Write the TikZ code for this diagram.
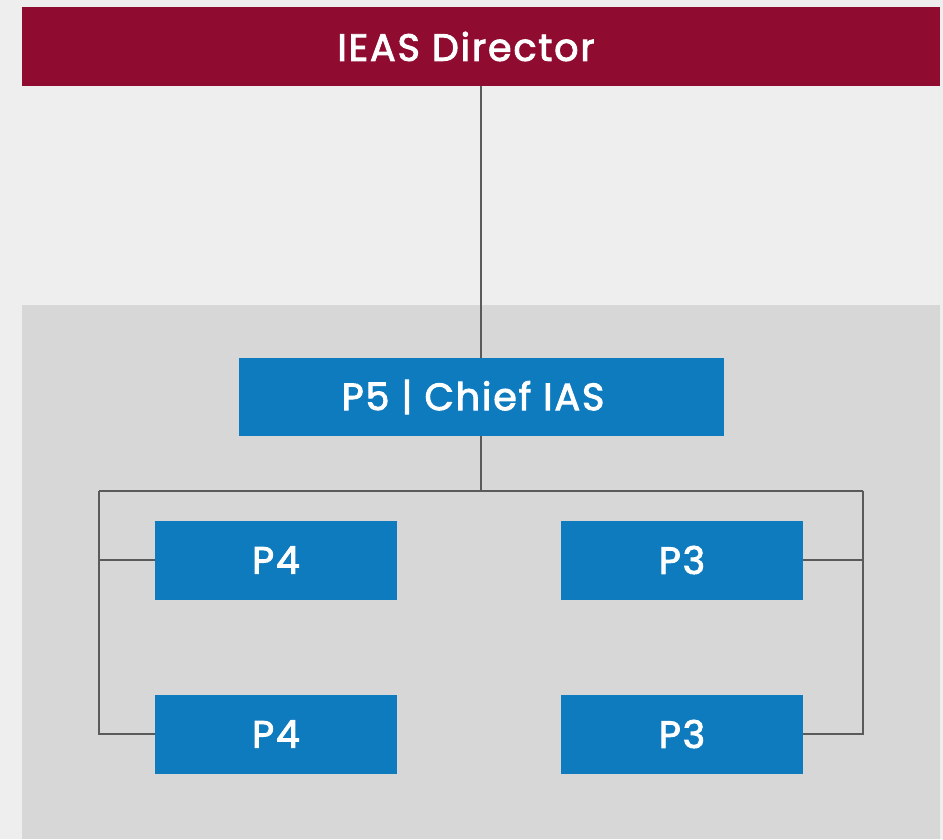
\documentclass[tikz,border=0pt]{standalone}
\usepackage{fontspec}
\setmainfont{Poppins}
\newfontfamily\labelfont{Poppins}[FakeBold=2.5,LetterSpace=5]
\definecolor{bgc}{HTML}{EEEEEE}
\definecolor{panelc}{HTML}{D7D7D7}
\definecolor{maroon}{HTML}{8F0B30}
\definecolor{bluec}{HTML}{0E7BBE}
\definecolor{linec}{HTML}{5A5A5A}
\begin{document}
\begin{tikzpicture}[x=1pt,y=-1pt,
  box/.style={fill=bluec,text=white,inner sep=0pt,font=\labelfont\fontsize{38}{44}\selectfont},
  topbox/.style={fill=maroon,text=white,inner sep=0pt,font=\labelfont\fontsize{38}{44}\selectfont},
  conn/.style={draw=linec,line width=1.2pt}]
\fill[bgc] (0,0) rectangle (943,839);
\useasboundingbox (0,0) rectangle (943,839);
\fill[panelc] (22,305) rectangle (940,839);
\node[topbox,minimum width=918pt,minimum height=79pt] (dir) at (481,46.5) {IEAS Director\hspace*{30pt}};
\node[box,minimum width=485pt,minimum height=78pt] (p5) at (481,397) {P5 | Chief IAS\hspace*{16pt}};
\node[box,minimum width=242pt,minimum height=79pt] (p4a) at (276,560) {P4};
\node[box,minimum width=242pt,minimum height=79pt] (p4b) at (276,734) {P4};
\node[box,minimum width=242pt,minimum height=79pt] (p3a) at (682,560) {P3};
\node[box,minimum width=242pt,minimum height=79pt] (p3b) at (682,734) {P3};
\coordinate (hub) at (481,491);
\coordinate (lt) at (99,491);
\coordinate (rt) at (863,491);
\draw[conn] (dir.south) -- (p5.north);
\draw[conn] (p5.south) -- (hub);
\draw[conn] (lt) -- (rt);
\draw[conn] (lt) |- (p4b.west);
\draw[conn] (lt |- p4a.west) -- (p4a.west);
\draw[conn] (rt) |- (p3b.east);
\draw[conn] (rt |- p3a.east) -- (p3a.east);
\end{tikzpicture}
\end{document}
